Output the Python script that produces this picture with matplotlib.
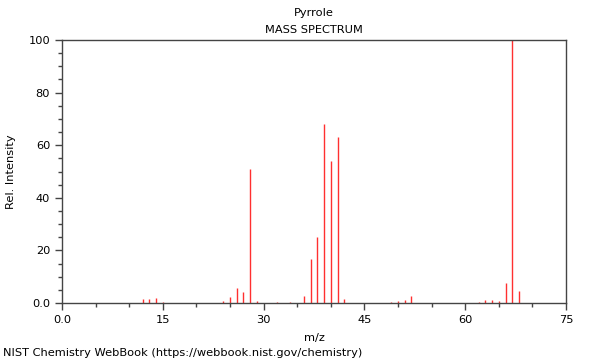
import matplotlib
matplotlib.use("Agg")
import matplotlib.pyplot as plt
from matplotlib.ticker import MultipleLocator

mz = [12, 13, 14, 15, 24, 25, 26, 27, 28, 29, 32, 34, 36, 37, 38, 39, 40, 41, 42,
      49, 50, 51, 52, 62, 63, 64, 65, 66, 67, 68]
intensity = [1.5, 1.6, 2.0, 0.5, 0.6, 2.4, 5.6, 4.3, 51, 0.7, 0.5, 0.3, 2.8, 16.8, 25, 68, 54, 63, 1.4,
             0.5, 0.9, 1.1, 2.5, 0.4, 1.0, 1.0, 0.8, 7.7, 100, 4.5]

title1 = "Pyrrole"
title2 = "MASS SPECTRUM"
xlabel = "m/z"
ylabel = "Rel. Intensity"
footer = "NIST Chemistry WebBook (https://webbook.nist.gov/chemistry)"

FS = 8.2
plt.rcParams['font.family'] = ['DejaVu Sans']
fig = plt.figure(figsize=(6, 3.6), dpi=100)
ax = fig.add_axes([62/600, 1-303/360, (566-62)/600, (303-40)/360])

ax.vlines(mz, 0, intensity, colors='#ff3030', linewidth=1.0)

ax.set_xlim(0, 75)
ax.set_ylim(0, 100)
ax.xaxis.set_minor_locator(MultipleLocator(5))
ax.yaxis.set_minor_locator(MultipleLocator(5))
ax.set_xticks([0, 15, 30, 45, 60, 75])
ax.set_xticklabels(["0.0", "15", "30", "45", "60", "75"])
ax.set_yticks([0, 20, 40, 60, 80, 100])
ax.set_yticklabels(["0.0", "20", "40", "60", "80", "100"])

for s in ax.spines.values():
    s.set_color('#444444')
    s.set_linewidth(1.0)
ax.tick_params(which='major', length=5, width=1, color='#444444', labelsize=FS, direction='out')
ax.tick_params(which='minor', length=3, width=1, color='#444444', direction='out')

ax.set_xlabel(xlabel, fontsize=FS, labelpad=6)
ax.set_ylabel(ylabel, fontsize=FS, labelpad=9)

fig.text(314/600, 1-13/360, title1, ha='center', va='center', fontsize=FS)
fig.text(314/600, 1-30/360, title2, ha='center', va='center', fontsize=FS)
fig.text(3/600, 1-353/360, footer, ha='left', va='center', fontsize=FS)

fig.savefig("out.png", dpi=100)
